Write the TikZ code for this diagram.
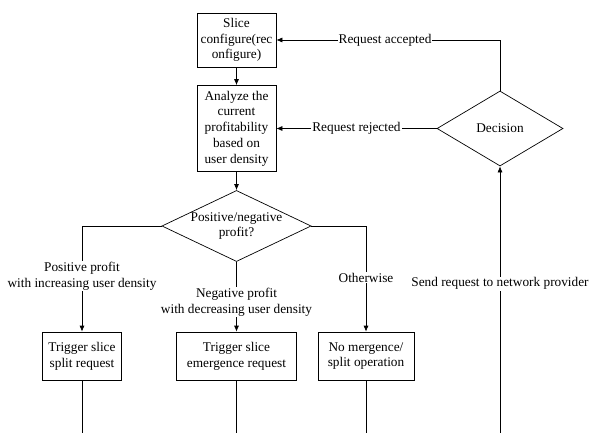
\documentclass[tikz,border=0pt]{standalone}
\usepackage{fontspec}
\setmainfont{Liberation Serif}
\usetikzlibrary{arrows.meta}
\usetikzlibrary{shapes.geometric}
\tikzset{box/.style = {draw, align=center, inner sep=1pt},
         choice/.style = {draw, diamond, align=center, inner sep=0pt},
         tag/.style = {fill=white, align=center, inner sep=1pt}}

\begin{document}
\begin{tikzpicture}[x=1pt, y=-1pt, line width=0.7pt,
                    font=\fontsize{13.3}{15.8}\selectfont,
                    >={Latex[length=6pt, width=5pt]}]
    \useasboundingbox (0, 0) rectangle (591, 433);

    \node [box, minimum width=79pt, minimum height=54pt] (slice) at (236.5, 40) {Slice\\configure(rec\\onfigure)};
    \node [box, minimum width=79pt, minimum height=86pt] (analyze) at (236.5, 128.5) {Analyze the\\current\\profitability\\based on\\user density};
    \node [choice, minimum width=148pt, minimum height=71pt, aspect=2.1] (profit) at (236.5, 226) {Positive/negative\\profit?};
    \node [choice, minimum width=126pt, minimum height=75pt, aspect=1.68] (decision) at (500, 128.5) {Decision};

    \node [box, minimum width=79pt, minimum height=48pt] (split) at (82, 356) {Trigger slice\\split request};
    \node [box, minimum width=120pt, minimum height=48pt] (merge) at (236.5, 356) {Trigger slice\\emergence request};
    \node [box, minimum width=96pt, minimum height=48pt] (keep) at (366, 356) {No mergence/\\split operation};

    \coordinate (split end) at (82, 433);
    \coordinate (merge end) at (236.5, 433);
    \coordinate (keep end) at (366, 433);
    \coordinate (send start) at (500, 433);

    \draw [->] (slice) -- (analyze);
    \draw [->] (analyze) -- (profit);
    \draw [->] (profit.west) -| (split)
        node [tag, pos=0.736] {Positive profit\\with increasing user density};
    \draw [->] (profit) -- (merge)
        node [tag, pos=0.58] {Negative profit\\with decreasing user density};
    \draw [->] (profit.east) -| (keep)
        node [tag, pos=0.745] {Otherwise};

    \draw (split) -- (split end);
    \draw (merge) -- (merge end);
    \draw (keep) -- (keep end);

    \draw [->] (send start) -- (decision)
        node [tag, pos=0.56] {Send request to network provider};
    \draw [->] (decision.north) |- (slice)
        node [tag, pos=0.757] {Request accepted};
    \draw [->] (decision) -- (analyze)
        node [tag, midway] {Request rejected};
\end{tikzpicture}
\end{document}
